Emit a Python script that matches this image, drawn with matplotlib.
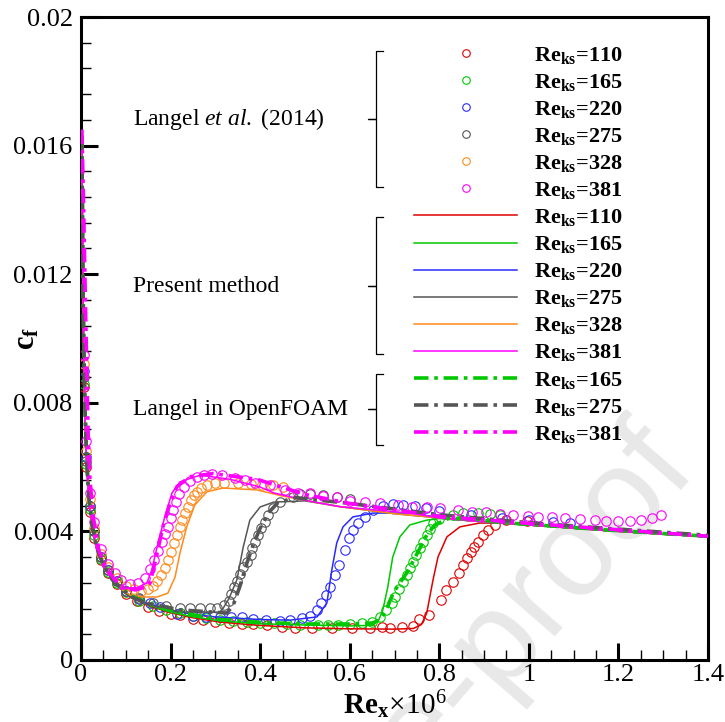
import numpy as np
import matplotlib
matplotlib.use("Agg")
import matplotlib.pyplot as plt
from matplotlib.lines import Line2D
from matplotlib.ticker import MultipleLocator, FuncFormatter

plt.rcParams['font.family'] = 'serif'
plt.rcParams['font.serif'] = ['Liberation Serif', 'DejaVu Serif']
plt.rcParams['mathtext.fontset'] = 'custom'
plt.rcParams['mathtext.rm'] = 'Liberation Serif'
plt.rcParams['mathtext.it'] = 'Liberation Serif:italic'
plt.rcParams['mathtext.bf'] = 'Liberation Serif:bold'

# ---- data (Re_x in 1e6, cf in 1e-3) ----
cases = [110, 165, 220, 275, 328, 381]
colors = ['#e00000', '#00c800', '#2a2aff', '#555555', '#ff8a1c', '#ff00ff']

# Langel et al. (2014) experiment
exp_x = {
    110: [.006, .012, .02, .03, .045, .06, .08, .10, .125, .15, .175, .2, .222, .25, .272, .30, .33, .36, .385,
          .415, .448, .478, .515, .56, .604, .645, .671, .69, .716, .742, .755, .777, .803, .816, .831, .844,
          .852, .861, .87, .877, .887, .898, .909, .924, .95, .995],
    165: [.006, .012, .02, .03, .045, .06, .08, .10, .13, .16, .19, .22, .25, .28, .31, .34, .37, .40, .43, .46,
          .49, .53, .552, .574, .60, .627, .649, .667, .682, .694, .701, .711, .72, .727, .734, .742, .749, .757,
          .764, .772, .779, .786, .80, .831, .853, .887, .913, .935],
    220: [.006, .012, .02, .03, .045, .06, .08, .10, .13, .155, .176, .214, .25, .28, .31, .335, .359, .385, .414,
          .444, .467, .493, .511, .526, .537, .547, .556, .567, .576, .589, .599, .608, .619, .634, .652, .675,
          .697, .72, .745, .77, .80, .87, .94, 1.0, 1.054, 1.092],
    275: [.006, .012, .02, .03, .045, .06, .08, .10, .13, .16, .19, .221, .243, .266, .288, .303, .319, .33, .336,
          .342, .348, .355, .362, .37, .379, .381, .388, .396, .403, .411, .418, .429, .444, .474, .49, .511,
          .54, .571, .60],
    328: [.006, .012, .02, .03, .045, .06, .08, .10, .118, .135, .15, .161, .17, .179, .187, .194, .20, .208,
          .214, .22, .226, .232, .238, .246, .253, .26, .269, .281, .30, .32, .35, .38, .405, .429, .451],
    381: [.006, .012, .02, .03, .045, .06, .075, .09, .109, .128, .144, .154, .163, .173, .181, .188, .194, .20,
          .206, .212, .219, .23, .243, .258, .275, .292, .314, .344, .366, .388, .422, .455, .485, .511, .541,
          .571, .60, .635, .667, .708, .738, .772, .801, .842, .872, .904, .935, .965, .998, 1.021, 1.051,
          1.08, 1.114, 1.147, 1.173, 1.199, 1.225, 1.251, 1.276, 1.296],
}
exp_cf = {
    110: [8.5, 6.0, 4.6, 3.8, 3.1, 2.7, 2.35, 2.05, 1.82, 1.65, 1.52, 1.44, 1.40, 1.27, 1.24, 1.17, 1.15, 1.13,
          1.12, 1.08, 1.03, .99, .99, .99, .99, .99, 1.02, .99, 1.02, 1.06, 1.27, 1.40, 1.87, 2.18, 2.44, 2.72,
          2.95, 3.16, 3.37, 3.52, 3.68, 3.89, 4.04, 4.20, 4.35, 4.33],
    165: [8.6, 6.1, 4.7, 3.9, 3.15, 2.75, 2.4, 2.1, 1.85, 1.68, 1.55, 1.45, 1.37, 1.30, 1.25, 1.21, 1.18, 1.16,
          1.14, 1.12, 1.10, 1.09, 1.09, 1.09, 1.12, 1.14, 1.19, 1.35, 1.56, 1.76, 1.97, 2.20, 2.44, 2.64, 2.85,
          3.06, 3.27, 3.47, 3.68, 3.89, 4.07, 4.25, 4.40, 4.51, 4.57, 4.58, 4.54, 4.51],
    220: [9.0, 6.3, 4.8, 4.0, 3.2, 2.8, 2.45, 2.15, 1.9, 1.76, 1.66, 1.42, 1.36, 1.35, 1.35, 1.35, 1.35, 1.28,
          1.24, 1.22, 1.24, 1.30, 1.38, 1.56, 1.76, 2.02, 2.28, 2.64, 2.95, 3.42, 3.79, 4.04, 4.25, 4.46, 4.67,
          4.79, 4.84, 4.83, 4.78, 4.72, 4.62, 4.50, 4.42, 4.36, 4.30, 4.27],
    275: [8.8, 6.2, 4.8, 4.0, 3.2, 2.8, 2.45, 2.15, 1.92, 1.78, 1.68, 1.61, 1.61, 1.61, 1.61, 1.63, 1.71, 1.84,
          2.05, 2.26, 2.47, 2.67, 2.88, 3.06, 3.27, 3.47, 3.68, 3.89, 4.10, 4.30, 4.51, 4.72, 4.92, 5.08, 5.15,
          5.15, 5.12, 5.08, 5.02],
    328: [9.2, 6.5, 5.0, 4.1, 3.3, 2.9, 2.55, 2.3, 2.2, 2.16, 2.20, 2.30, 2.47, 2.64, 2.85, 3.11, 3.37, 3.63,
          3.89, 4.15, 4.35, 4.56, 4.77, 4.98, 5.13, 5.24, 5.34, 5.44, 5.50, 5.52, 5.50, 5.47, 5.45, 5.44, 5.39],
    381: [9.5, 6.8, 5.2, 4.3, 3.45, 3.0, 2.7, 2.5, 2.36, 2.39, 2.54, 2.82, 3.11, 3.40, 3.68, 3.92, 4.15, 4.41,
          4.67, 4.92, 5.16, 5.39, 5.58, 5.70, 5.75, 5.78, 5.75, 5.65, 5.60, 5.51, 5.44, 5.30, 5.20, 5.18, 5.10,
          5.06, 4.95, 4.92, 4.89, 4.82, 4.77, 4.75, 4.72, 4.67, 4.61, 4.59, 4.54, 4.51, 4.48, 4.46, 4.44, 4.41,
          4.38, 4.35, 4.33, 4.33, 4.33, 4.35, 4.41, 4.51],
}

# present method
le_x = [.002, .004, .006, .009, .013, .018, .025, .035, .05, .07, .09]
le_cf = [16.0, 12.0, 9.5, 7.5, 6.0, 4.9, 4.1, 3.45, 2.9, 2.5, 2.2]
turb_x = [.935, 1.05, 1.158, 1.28, 1.4]
turb_cf = [4.26, 4.15, 4.04, 3.93, 3.83]

pm_x = {
    110: [.109, .147, .192, .243, .31, .393, .50, .60, .70, .742, .76, .772, .786, .797, .817, .846, .89],
    165: [.109, .147, .192, .243, .31, .393, .50, .60, .652, .665, .674, .685, .696, .712, .734, .772, .80, .87],
    220: [.109, .15, .2, .25, .3, .4, .467, .527, .549, .56, .571, .585, .607, .652, .741, .80, .87],
    275: [.109, .15, .221, .31, .317, .33, .348, .362, .377, .40, .43, .5, .578, .70, .80, .87],
    328: [.109, .138, .17, .194, .21, .221, .236, .254, .281, .317, .393, .45, .5, .578, .70, .80, .87],
    381: [.103, .125, .147, .158, .172, .187, .203, .221, .266, .333, .40, .43, .5, .578, .741, .80, .87],
}
pm_cf = {
    110: [1.98, 1.72, 1.50, 1.33, 1.18, 1.08, 1.0, .97, .96, .98, 1.1, 1.46, 2.49, 3.2, 3.83, 4.14, 4.26],
    165: [2.0, 1.74, 1.52, 1.36, 1.22, 1.13, 1.09, 1.06, 1.08, 1.25, 1.56, 2.27, 3.2, 3.83, 4.2, 4.35, 4.4, 4.33],
    220: [2.02, 1.74, 1.55, 1.42, 1.34, 1.26, 1.24, 1.34, 1.77, 2.8, 3.64, 4.14, 4.45, 4.57, 4.57, 4.42, 4.33],
    275: [1.96, 1.72, 1.49, 1.49, 1.6, 1.9, 2.49, 3.5, 4.35, 4.76, 4.91, 4.95, 4.77, 4.55, 4.42, 4.33],
    328: [2.02, 1.96, 1.96, 2.08, 2.58, 3.33, 4.14, 4.82, 5.23, 5.35, 5.29, 5.1, 4.97, 4.77, 4.55, 4.42, 4.33],
    381: [2.24, 2.25, 2.39, 2.8, 3.64, 4.45, 5.19, 5.54, 5.75, 5.62, 5.38, 5.2, 4.97, 4.77, 4.56, 4.42, 4.33],
}

# Langel model in OpenFOAM
of_cases = [165, 275, 381]
of_x = {
    165: [.002, .004, .006, .009, .013, .018, .025, .035, .05, .07, .09, .11, .15, .2, .3, .4, .5, .6, .65, .667,
          .68, .697, .712, .727, .749, .772, .79, .82, .87, .935, 1.05, 1.158, 1.28, 1.4],
    275: [.002, .004, .006, .009, .013, .018, .025, .035, .05, .07, .09, .109, .147, .221, .326, .34, .355, .37,
          .385, .40, .42, .44, .48, .6, .8, 1.0, 1.2, 1.4],
    381: [.002, .006, .01, .013, .016, .02, .028, .04, .055, .075, .095, .121, .147, .154, .168, .183, .198,
          .214, .243, .295, .348, .393, .5, .6, .8, 1.0, 1.2, 1.4],
}
of_cf = {
    165: [16.3, 12.5, 10.0, 7.8, 6.1, 5.0, 4.2, 3.5, 2.95, 2.5, 2.22, 2.02, 1.75, 1.55, 1.27, 1.17, 1.12, 1.12,
          1.15, 1.24, 1.5, 2.08, 2.4, 2.7, 3.27, 3.89, 4.2, 4.4, 4.4, 4.28, 4.17, 4.06, 3.95, 3.85],
    275: [16.3, 12.5, 10.0, 7.8, 6.1, 5.0, 4.2, 3.5, 2.95, 2.5, 2.22, 1.98, 1.77, 1.56, 1.46, 1.71, 2.3, 3.0,
          3.6, 4.1, 4.6, 4.9, 5.05, 4.87, 4.52, 4.27, 4.07, 3.88],
    381: [16.5, 14.0, 11.0, 9.0, 7.0, 5.6, 4.4, 3.4, 2.9, 2.5, 2.25, 2.18, 2.28, 2.39, 3.2, 4.15, 4.85, 5.39,
          5.7, 5.8, 5.7, 5.62, 5.15, 4.87, 4.47, 4.25, 4.05, 3.85],
}

# ---- figure ----
W, H = 725, 722
fig = plt.figure(figsize=(W / 100, H / 100), dpi=100)
ax = fig.add_axes([81 / W, 1 - 660 / H, (708 - 81) / W, (660 - 17) / H])
ax.patch.set_alpha(0)

k = 1e-3
exp_h, pm_h, of_h = [], [], []
for c, col in zip(cases, colors):
    h, = ax.plot(exp_x[c], np.array(exp_cf[c]) * k, ls='none', marker='o', ms=6.8, mfc='none',
                 mec=col, mew=0.8, zorder=3)
    exp_h.append(h)
for c, col in zip(cases, colors):
    x = le_x + pm_x[c] + turb_x
    y = np.array(le_cf + pm_cf[c] + turb_cf) * k
    h, = ax.plot(x, y, color=col, lw=1.1, zorder=4)
    pm_h.append(h)
for c in of_cases:
    col = colors[cases.index(c)]
    h, = ax.plot(of_x[c], np.array(of_cf[c]) * k, color=col, lw=2.6, ls=(0, (4, 1.6, 1, 1.6)), zorder=5)
    of_h.append(h)

ax.set_xlim(0, 1.4)
ax.set_ylim(0, 0.02)
ax.xaxis.set_major_locator(MultipleLocator(0.2))
ax.xaxis.set_minor_locator(MultipleLocator(0.05))
ax.yaxis.set_major_locator(MultipleLocator(0.004))
ax.yaxis.set_minor_locator(MultipleLocator(0.0008))
ax.xaxis.set_major_formatter(FuncFormatter(lambda v, p: '%g' % round(v, 4)))
ax.yaxis.set_major_formatter(FuncFormatter(lambda v, p: '%g' % round(v, 4)))
ax.tick_params(which='both', direction='in', top=False, right=False, labelsize=19)
ax.tick_params(which='major', length=12, width=2.2)
ax.tick_params(which='minor', length=7, width=1.0)
ax.tick_params(axis='x', pad=3)
ax.tick_params(axis='y', pad=6)
for s in ax.spines.values():
    s.set_linewidth(2.2)

ax.set_xlabel(r'$\mathbf{Re_x}\!\times\!10^6$', fontsize=21)
ax.xaxis.set_label_coords(0.5, -0.044)
ax.set_ylabel(r'$\mathbf{c_f}$', fontsize=22)
ax.yaxis.set_label_coords(-0.063, 0.5)

# legend
labels = [r'$\mathbf{Re_{ks}}$=%d' % c for c in cases] * 2 + [r'$\mathbf{Re_{ks}}$=%d' % c for c in of_cases]
leg = ax.legend(exp_h + pm_h + of_h, labels, loc='upper left',
                bbox_to_anchor=(414 / W, 1 - 45 / H), bbox_transform=fig.transFigure,
                frameon=False, prop={'size': 16, 'weight': 'bold'}, handlelength=4.64,
                handletextpad=0.77, labelspacing=0.272, borderpad=0, borderaxespad=0, markerscale=0.8)

# group labels and brackets
def px(x, y):
    return x / W, 1 - y / H

def bracket(top, bot, mid):
    xs = [383, 376, 376, 368, 376, 376, 383]
    ys = [top, top, mid, mid, mid, bot, bot]
    fig.add_artist(Line2D([x / W for x in xs], [1 - y / H for y in ys], color='black', lw=0.9,
                          transform=fig.transFigure))

groups = [(r'Langel $\it{et\ al.}$ (2014)', 51, 187, 119),
          ('Present method', 217, 354, 286),
          ('Langel in OpenFOAM', 374, 445, 409)]
for txt, t, b, m in groups:
    fig.text(*px(133, m), txt, fontsize=17, ha='left', va='center')
    bracket(t, b, m)

# watermark, kept under the axes
fig.text(*px(518, 616), 're-proof', fontsize=95, family='Liberation Sans', color='#e8e8e8',
         rotation=49, ha='center', va='center', zorder=-1)

fig.savefig('out.png', dpi=100)
